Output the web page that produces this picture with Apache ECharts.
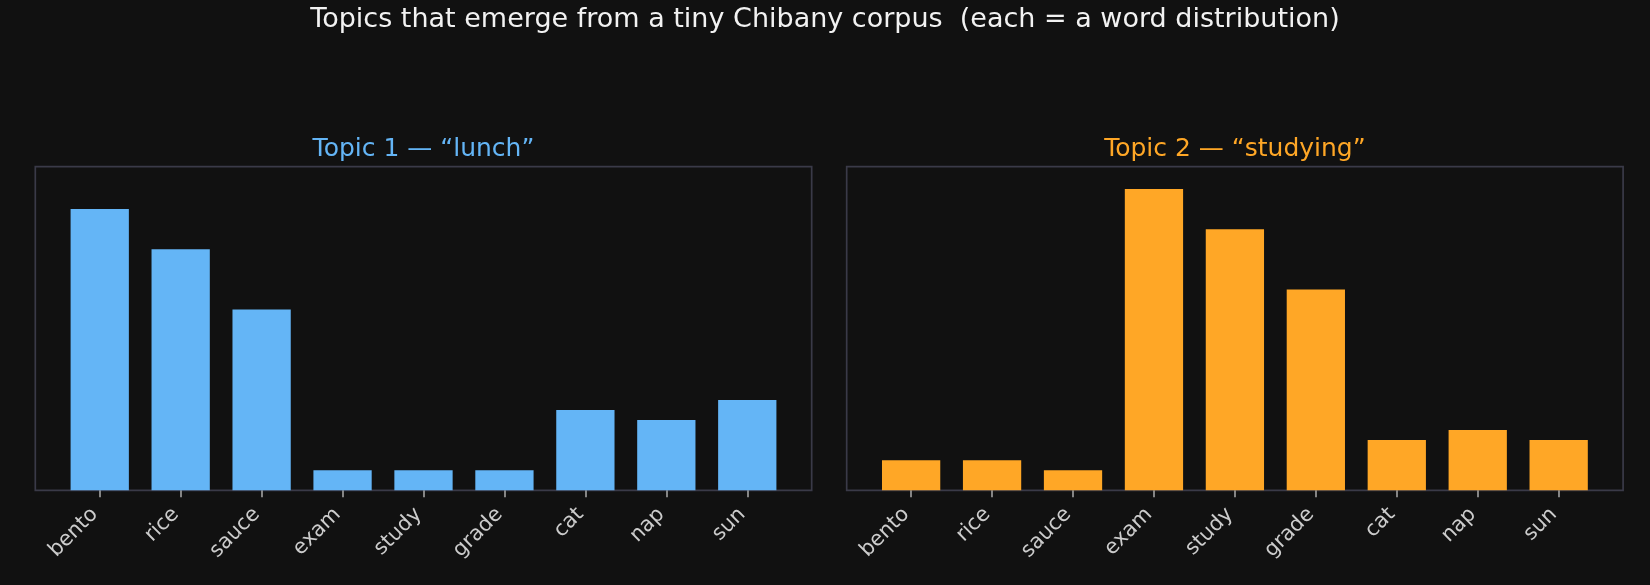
<!DOCTYPE html>
<html>
<head>
<meta charset="utf-8">
<style>
  html, body { margin: 0; padding: 0; background: #111111; }
  #chart { width: 1650px; height: 585px; }
</style>
<script src="https://cdn.jsdelivr.net/npm/echarts@6/dist/echarts.min.js"></script>
</head>
<body>
<div id="chart"></div>
<script>
// --- Data ---
const words = ['bento', 'rice', 'sauce', 'exam', 'study', 'grade', 'cat', 'nap', 'sun'];
const lunchProbs = [0.28, 0.24, 0.18, 0.02, 0.02, 0.02, 0.08, 0.07, 0.09];
const studyingProbs = [0.03, 0.03, 0.02, 0.30, 0.26, 0.20, 0.05, 0.06, 0.05];
const panelTitles = ['Topic 1 \u2014 \u201clunch\u201d', 'Topic 2 \u2014 \u201cstudying\u201d'];
const mainTitle = 'Topics that emerge from a tiny Chibany corpus  (each = a word distribution)';

// --- Layout ---
const FONT = 'DejaVu Sans';
const BLUE = '#64b5f6', ORANGE = '#ffa726';
const frameTop = 166.7, frameH = 323.6, frameW = 776.4;
const frameLefts = [35.3, 846.7];
// matplotlib-like margins: bars of width 0.72 plus 5% padding each side
const unit = frameW / (8.72 * 1.1);
const innerPad = (0.36 + 0.436) * unit - 0.5 * unit;
const yMax = 0.3222;

const chart = echarts.init(document.getElementById('chart'), null, { renderer: 'canvas' });

function frameGrid(left) {
    return {
        left, top: frameTop, width: frameW, height: frameH,
        show: true, borderColor: '#3a3a48', borderWidth: 1.7,
        backgroundColor: 'transparent', containLabel: false,
    };
}

function innerGrid(left) {
    return { left: left + innerPad, top: frameTop, width: 9 * unit, height: frameH, containLabel: false };
}

function catAxis(gridIndex) {
    return {
        type: 'category', gridIndex, data: words, boundaryGap: true,
        axisLine: { show: false },
        axisTick: { show: true, alignWithLabel: true, length: 7, lineStyle: { color: '#9a9a9a', width: 1.7 } },
        axisLabel: {
            interval: 0, rotate: 45, margin: 16, padding: [0, 7, 0, 0],
            color: '#cccccc', fontFamily: FONT, fontSize: 20.8,
        },
        splitLine: { show: false },
    };
}

function valAxis(gridIndex) {
    return { type: 'value', gridIndex, min: 0, max: yMax, show: false, splitLine: { show: false } };
}

function panelTitle(i, color) {
    return {
        text: panelTitles[i], left: frameLefts[i] + frameW / 2, top: 149.6,
        textAlign: 'center', textVerticalAlign: 'middle', padding: 0,
        textStyle: { color, fontFamily: FONT, fontSize: 25, fontWeight: 'normal' },
    };
}

chart.setOption({
    backgroundColor: '#111111',
    animation: false,
    title: [
        {
            text: mainTitle, left: 'center', top: 19.9, textVerticalAlign: 'middle', padding: 0,
            textStyle: { color: '#f2f2f2', fontFamily: FONT, fontSize: 27, fontWeight: 'normal' },
        },
        panelTitle(0, BLUE),
        panelTitle(1, ORANGE),
    ],
    grid: [
        frameGrid(frameLefts[0]), frameGrid(frameLefts[1]),
        innerGrid(frameLefts[0]), innerGrid(frameLefts[1]),
    ],
    xAxis: [
        { type: 'value', gridIndex: 0, show: false },
        { type: 'value', gridIndex: 1, show: false },
        catAxis(2), catAxis(3),
    ],
    yAxis: [
        { type: 'value', gridIndex: 0, show: false },
        { type: 'value', gridIndex: 1, show: false },
        valAxis(2), valAxis(3),
    ],
    series: [
        { type: 'bar', xAxisIndex: 2, yAxisIndex: 2, data: lunchProbs, barWidth: '72%', itemStyle: { color: BLUE } },
        { type: 'bar', xAxisIndex: 3, yAxisIndex: 3, data: studyingProbs, barWidth: '72%', itemStyle: { color: ORANGE } },
    ],
});
</script>
</body>
</html>
